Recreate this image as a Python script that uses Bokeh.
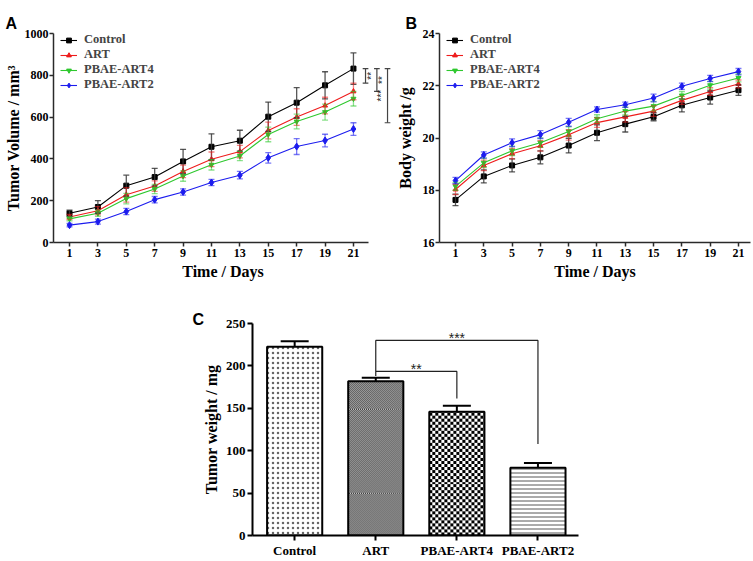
import math
import numpy as np
from bokeh.plotting import figure
from bokeh.models import (Range1d, FixedTicker, Whisker, ColumnDataSource, Label,
                          TeeHead, Spacer)
from bokeh.layouts import row, column
from bokeh.embed import file_html
from bokeh.resources import INLINE

# ---------------- data ----------------
days = [1, 3, 5, 7, 9, 11, 13, 15, 17, 19, 21]
series = ["Control", "ART", "PBAE-ART4", "PBAE-ART2"]

# Panel A: tumor volume (mm^3), mean and SD
vol_control = [140, 170, 272, 313, 388, 458, 487, 602, 669, 752, 832]
vol_art = [122, 152, 228, 270, 340, 398, 435, 536, 600, 655, 723]
vol_pbae4 = [113, 140, 210, 256, 318, 372, 414, 517, 579, 624, 688]
vol_pbae2 = [83, 100, 148, 205, 242, 287, 322, 405, 459, 488, 543]
vol_err_control = [15, 30, 50, 42, 58, 62, 50, 70, 72, 65, 75]
vol_err_art = [12, 20, 35, 25, 30, 35, 30, 40, 40, 40, 40]
vol_err_pbae4 = [10, 15, 25, 22, 25, 25, 22, 35, 35, 38, 35]
vol_err_pbae2 = [8, 12, 15, 15, 15, 15, 18, 25, 38, 30, 30]
vol_ticks = [0, 200, 400, 600, 800, 1000]
vol_sig = ["**", "**", "***"]   # Control vs ART, PBAE-ART4, PBAE-ART2 at day 21

# Panel B: body weight (g)
bw_control = [17.63, 18.53, 18.95, 19.26, 19.71, 20.20, 20.53, 20.81, 21.25, 21.55, 21.83]
bw_art = [18.03, 18.95, 19.40, 19.70, 20.12, 20.59, 20.81, 21.03, 21.44, 21.78, 22.07]
bw_pbae4 = [18.15, 19.05, 19.51, 19.82, 20.25, 20.74, 21.03, 21.22, 21.63, 22.02, 22.30]
bw_pbae2 = [18.37, 19.35, 19.82, 20.13, 20.60, 21.09, 21.27, 21.53, 21.98, 22.28, 22.54]
bw_err_control = [0.22, 0.25, 0.25, 0.25, 0.28, 0.30, 0.30, 0.15, 0.25, 0.25, 0.20]
bw_err_art = [0.20, 0.20, 0.20, 0.20, 0.20, 0.18, 0.20, 0.20, 0.15, 0.15, 0.15]
bw_err_pbae4 = [0.15, 0.18, 0.18, 0.18, 0.18, 0.15, 0.15, 0.18, 0.15, 0.15, 0.15]
bw_err_pbae2 = [0.12, 0.12, 0.15, 0.15, 0.15, 0.10, 0.10, 0.15, 0.12, 0.12, 0.12]
bw_ticks = [16, 18, 20, 22, 24]

# Panel C: tumor weight (mg)
groups = ["Control", "ART", "PBAE-ART4", "PBAE-ART2"]
tumor_weight = [222.6, 181.8, 146.0, 79.8]
tumor_weight_err = [6.4, 4.2, 7.0, 5.8]
weight_ticks = [0, 50, 100, 150, 200, 250]
weight_sig = [(1, 2, "**"), (1, 3, "***")]

# ---------------- style ----------------
SERIF = "Liberation Serif"
SANS = "Liberation Sans"
colors = ["#000000", "#ee1c1c", "#2ec82e", "#1c1cee"]
err_colors = ["#3a3a3a", "#ee1c1c", "#2ec82e", "#1c1cee"]
err_alpha = [0.85, 0.55, 0.55, 0.6]
markers = ["square", "triangle", "inverted_triangle", "diamond"]
msizes = [5, 5, 5, 7]


def style_axes(p, tick_size="12px", lw=1.5, color="#2a2a2a"):
    for ax in (p.xaxis[0], p.yaxis[0]):
        ax.axis_line_width = lw
        ax.axis_line_color = color
        ax.major_tick_line_width = lw
        ax.major_tick_line_color = color
        ax.major_tick_out = 4
        ax.major_tick_in = 0
        ax.minor_tick_line_color = None
        ax.major_label_text_font = SERIF
        ax.major_label_text_font_style = "bold"
        ax.major_label_text_font_size = tick_size
        ax.major_label_text_color = "black"
        ax.major_label_standoff = 2
        ax.axis_label_text_font = SERIF
        ax.axis_label_text_font_style = "bold"
        ax.axis_label_text_font_size = "16px"
        ax.axis_label_text_color = "black"
        ax.axis_label_standoff = 3
    p.xgrid.visible = False
    p.ygrid.visible = False
    p.outline_line_color = None


def panel_letter(p, letter, offset, valign, standoff):
    p.title.text = letter
    p.title.align = "left"
    p.title.offset = offset
    p.title.vertical_align = valign
    p.title.standoff = standoff
    p.title.text_font = SANS
    p.title.text_font_style = "bold"
    p.title.text_font_size = "16px"
    p.title.text_color = "black"


def line_panel(width, height, xr, yr, yticks, xbounds, ylabel, ylab_standoff, letter,
               letter_x, vals_list, errs_list, borders):
    p = figure(width=width, height=height, x_range=Range1d(*xr), y_range=Range1d(*yr),
               output_backend="svg", toolbar_location=None, title=letter,
               min_border_left=borders[0], min_border_right=borders[1],
               min_border_top=borders[2], min_border_bottom=borders[3])
    p.xaxis.ticker = FixedTicker(ticks=days)
    p.yaxis.ticker = FixedTicker(ticks=yticks)
    p.xaxis.bounds = xbounds
    p.xaxis.axis_label = "Time / Days"
    p.yaxis.axis_label = ylabel
    style_axes(p)
    p.yaxis.axis_label_standoff = ylab_standoff
    p.yaxis.major_label_standoff = 1
    panel_letter(p, letter, letter_x, "top", 0)
    for name, vals, errs, c, ec, ea, mk, ms in zip(series, vals_list, errs_list, colors,
                                                   err_colors, err_alpha, markers, msizes):
        src = ColumnDataSource(dict(x=days, y=vals,
                                    lo=[v - e for v, e in zip(vals, errs)],
                                    hi=[v + e for v, e in zip(vals, errs)]))
        p.add_layout(Whisker(source=src, base="x", lower="lo", upper="hi",
                             line_color=ec, line_alpha=ea, line_width=1.3,
                             upper_head=TeeHead(size=6, line_color=ec, line_alpha=ea, line_width=1.3),
                             lower_head=TeeHead(size=6, line_color=ec, line_alpha=ea, line_width=1.3),
                             level="glyph"))
        p.line("x", "y", source=src, line_color=c, line_width=1.1, legend_label=name)
        p.scatter("x", "y", source=src, marker=mk, size=ms, fill_color=c, line_color=c,
                  legend_label=name)
    lg = p.legend[0]
    lg.location = (7, 150)
    lg.background_fill_alpha = 0
    lg.border_line_alpha = 0
    lg.label_text_font = SERIF
    lg.label_text_font_style = "bold"
    lg.label_text_font_size = "12.5px"
    lg.glyph_width = 17
    lg.glyph_height = 12
    lg.label_height = 12
    lg.label_standoff = 7
    lg.spacing = 0
    lg.padding = 0
    lg.margin = 0
    return p


# ---------------- Panel A ----------------
pA = line_panel(392, 290, (-0.127, 23.75), (0, 1000), vol_ticks, (-0.127, 22.05),
                "Tumor Volume / mm\u00b3", 0, "A", -48,
                [vol_control, vol_art, vol_pbae4, vol_pbae2],
                [vol_err_control, vol_err_art, vol_err_pbae4, vol_err_pbae2],
                (53, 0, 33, 48))
# significance brackets at the last day
last = len(days) - 1
bracket_x = [days[last] + 0.85, days[last] + 1.65, days[last] + 2.4]
star_dx = [0.42, 0.38, -0.4]
others_vals = [vol_art, vol_pbae4, vol_pbae2]
others_errs = [vol_err_art, vol_err_pbae4, vol_err_pbae2]
for bx, dx, ov, oe, s in zip(bracket_x, star_dx, others_vals, others_errs, vol_sig):
    y_top = vol_control[last]
    y_bot = ov[last] + oe[last]
    pA.segment(x0=[bx, bx - 0.2, bx - 0.2], y0=[y_top, y_top, y_bot],
               x1=[bx, bx + 0.2, bx + 0.2], y1=[y_bot, y_top, y_bot],
               line_color="#444444", line_width=1.2)
    pA.add_layout(Label(x=bx + dx, y=(y_top + y_bot) / 2, text=s, angle=math.pi / 2,
                        text_font=SANS, text_font_size="10px", text_align="center",
                        text_baseline="middle", text_color="#222222"))

# ---------------- Panel B ----------------
pB = line_panel(361, 290, (-0.13, 21.85), (16, 24), bw_ticks, "auto",
                "Body weight /g", 6, "B", -34,
                [bw_control, bw_art, bw_pbae4, bw_pbae2],
                [bw_err_control, bw_err_art, bw_err_pbae4, bw_err_pbae2],
                (47, 3, 33, 48))

# ---------------- Panel C ----------------
xpos = list(range(len(groups)))
C_W, C_H = 403, 270
C_BORDERS = (67, 10, 33, 23)   # left, right, top, bottom
C_XR = (-0.52, 3.5)
C_YR = (0, 250)
BAR_W = 0.68
pC = figure(width=C_W, height=C_H, x_range=Range1d(*C_XR), y_range=Range1d(*C_YR),
            output_backend="svg", toolbar_location=None, title="C",
            min_border_left=C_BORDERS[0], min_border_right=C_BORDERS[1],
            min_border_top=C_BORDERS[2], min_border_bottom=C_BORDERS[3])
style_axes(pC, tick_size="13px", lw=2, color="black")
panel_letter(pC, "C", -60, "bottom", -9)
pC.xaxis.ticker = FixedTicker(ticks=xpos)
pC.xaxis.major_label_overrides = {i: g for i, g in zip(xpos, groups)}
pC.yaxis.ticker = FixedTicker(ticks=weight_ticks)
pC.yaxis.axis_label = "Tumor weight / mg"
pC.yaxis.axis_label_standoff = 3
pC.xaxis.major_tick_out = 5
pC.yaxis.major_tick_out = 5

# approximate screen pixels per data unit (for pattern textures)
px_x = (C_W - C_BORDERS[0] - C_BORDERS[1]) / (C_XR[1] - C_XR[0])
px_y = (C_H - C_BORDERS[2] - C_BORDERS[3]) / (C_YR[1] - C_YR[0])


def checker_image(top, cell):
    w = max(1, int(round(BAR_W * px_x)))
    h = max(1, int(round(top * px_y)))
    yy, xx = np.mgrid[0:h, 0:w]
    black = ((xx // cell + yy // cell) % 2) == 0
    return np.where(black, np.uint32(0xFF000000), np.uint32(0xFFFFFFFF)).astype(np.uint32)


# bar fill styles: builtin hatch or checker texture (cell size in px)
bar_styles = [("hatch", "dot", 5, "#666666"),
              ("checker", None, 1, None),
              ("checker", None, 3, None),
              ("hatch", "horizontal_line", 4, "#555555")]

for i in xpos:
    kind, pat, sc, hc = bar_styles[i]
    if kind == "checker":
        pC.image_rgba(image=[checker_image(tumor_weight[i], sc)], x=xpos[i] - BAR_W / 2, y=0,
                      dw=BAR_W, dh=tumor_weight[i])
        pC.vbar(x=[xpos[i]], top=[tumor_weight[i]], width=BAR_W, bottom=0,
                fill_color=None, line_color="black", line_width=2)
    else:
        pC.vbar(x=[xpos[i]], top=[tumor_weight[i]], width=BAR_W, bottom=0,
                fill_color="white", line_color="black", line_width=2,
                hatch_pattern=pat, hatch_scale=sc, hatch_weight=1, hatch_color=hc)

err_src = ColumnDataSource(dict(x=xpos, lo=tumor_weight,
                                hi=[v + e for v, e in zip(tumor_weight, tumor_weight_err)]))
pC.add_layout(Whisker(source=err_src, base="x", lower="lo", upper="hi",
                      line_color="black", line_width=2, lower_head=None,
                      upper_head=TeeHead(size=28, line_color="black", line_width=2),
                      level="glyph"))

# significance brackets
sig_levels = [193.5, 230]
sig_right_end = [161.6, 108]
left_end = tumor_weight[1] + tumor_weight_err[1] + 2
for (a, b, s), lvl, rend in zip(weight_sig, sig_levels, sig_right_end):
    start = left_end if lvl == sig_levels[0] else sig_levels[0]
    pC.line(x=[xpos[a], xpos[a], xpos[b], xpos[b]], y=[start, lvl, lvl, rend],
            line_color="#222222", line_width=1.2)
    pC.add_layout(Label(x=(xpos[a] + xpos[b]) / 2, y=lvl, y_offset=2, text=s,
                        text_font=SANS, text_font_size="14px", text_align="center",
                        text_baseline="alphabetic", text_color="#222222"))

layout = column(row(pA, pB), row(Spacer(width=185, height=C_H), pC))
open("out.html", "w").write(file_html(layout, INLINE))
